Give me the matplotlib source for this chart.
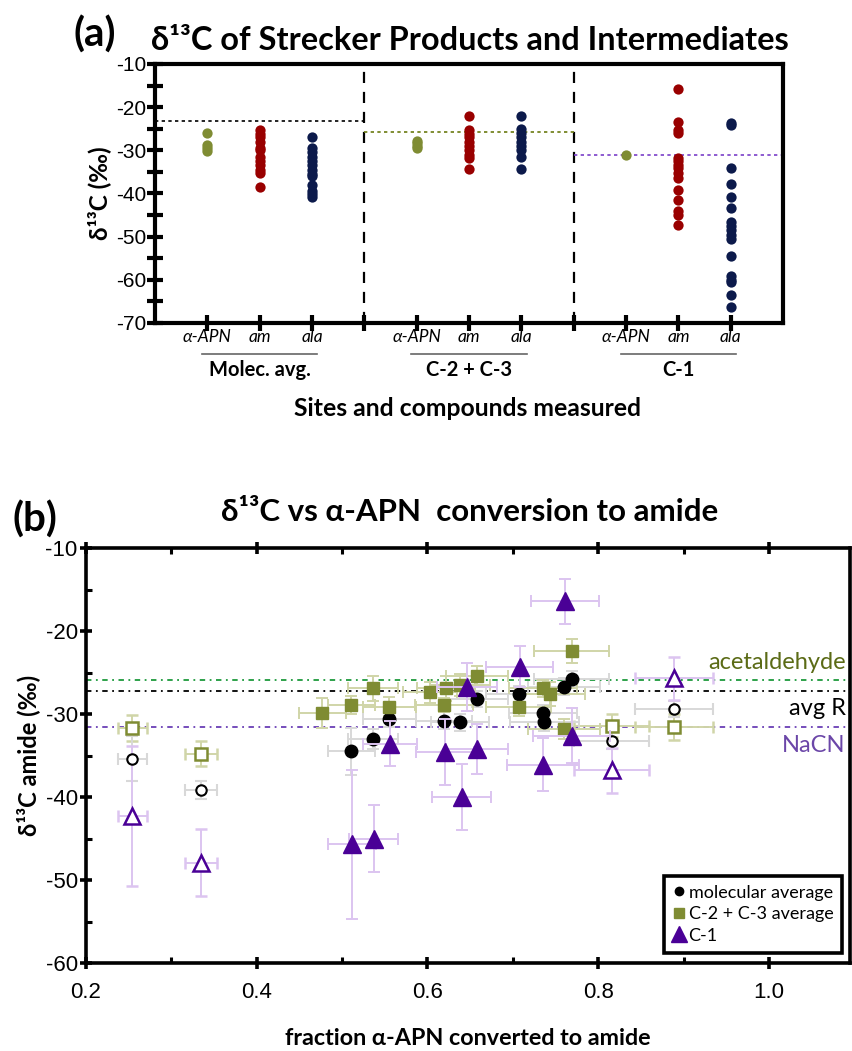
import matplotlib
matplotlib.use("Agg")
import matplotlib.pyplot as plt
from matplotlib.lines import Line2D
from matplotlib.ticker import MultipleLocator, FixedLocator

plt.rcParams['font.family'] = ['Lato', 'DejaVu Sans']

# ---------------- Panel (a) data ----------------
groups = ["Molec. avg.", "C-2 + C-3", "C-1"]
compounds = ["α-APN", "am", "ala"]
a_apn_mol = [-25.9, -28.8, -29.4, -30.2]
a_am_mol = [-25.4, -26.2, -27.0, -28.0, -29.5, -30.0, -31.5, -32.5, -33.5, -34.5, -35.3, -38.5]
a_ala_mol = [-26.9, -29.5, -30.5, -31.5, -32.5, -33.5, -34.5, -35.5, -36.0, -38.0, -39.5, -40.2, -40.8]
a_apn_c23 = [-27.9, -28.4, -28.9, -29.4]
a_am_c23 = [-22.1, -25.3, -26.2, -27.0, -28.0, -29.0, -30.0, -31.0, -31.8, -34.3]
a_ala_c23 = [-22.1, -25.0, -26.0, -27.0, -28.0, -29.0, -30.0, -31.5, -34.3]
a_apn_c1 = [-31.1]
a_am_c1 = [-15.9, -23.4, -25.3, -26.0, -31.8, -32.5, -33.3, -34.2, -35.2, -36.3, -39.2, -41.6, -44.0, -45.0, -47.2]
a_ala_c1 = [-23.6, -24.1, -34.0, -37.9, -40.9, -43.4, -46.5, -47.5, -48.5, -49.5, -50.5, -54.4, -59.2,
            -60.0, -60.5, -63.5, -66.3]
a_ref_lines = [-23.2, -25.7, -31.1]   # molecular avg, C-2+C-3, C-1 reference

# ---------------- Panel (b) data ----------------
mol_x = [0.511, 0.536, 0.555, 0.619, 0.638, 0.658, 0.707, 0.735, 0.737, 0.760, 0.769]
mol_y = [-34.5, -33.0, -30.6, -30.8, -31.0, -28.2, -27.6, -29.9, -31.0, -26.7, -25.8]
mol_xerr = [0.028, 0.029, 0.031, 0.033, 0.034, 0.036, 0.038, 0.040, 0.040, 0.042, 0.044]
mol_yerr = [2.8, 1.2, 1.0, 1.0, 1.0, 1.0, 1.0, 1.0, 1.0, 1.0, 1.0]

sq_x = [0.477, 0.511, 0.536, 0.555, 0.603, 0.622, 0.619, 0.638, 0.658, 0.707, 0.735, 0.743, 0.769, 0.760]
sq_y = [-29.9, -28.9, -26.9, -29.1, -27.4, -26.9, -28.9, -26.5, -25.4, -29.1, -26.9, -27.6, -22.4, -31.8]
sq_xerr = [0.027, 0.028, 0.029, 0.031, 0.032, 0.034, 0.034, 0.035, 0.036, 0.038, 0.040, 0.041, 0.044, 0.042]
sq_yerr = [1.8, 1.1, 1.5, 1.2, 1.3, 1.5, 0.8, 1.3, 1.2, 1.2, 1.0, 1.4, 1.45, 1.25]

tri_x = [0.512, 0.537, 0.556, 0.621, 0.640, 0.646, 0.658, 0.708, 0.735, 0.761, 0.769]
tri_y = [-45.7, -45.0, -33.6, -34.6, -40.0, -26.7, -34.2, -24.3, -36.1, -16.4, -32.6]
tri_xerr = [0.028, 0.029, 0.032, 0.034, 0.035, 0.035, 0.036, 0.039, 0.042, 0.040, 0.045]
tri_yerr = [9.0, 4.0, 2.7, 4.0, 4.0, 2.9, 3.0, 2.5, 3.2, 2.7, 3.3]

open_x = [0.254, 0.335, 0.816, 0.889]
open_xerr = [0.017, 0.019, 0.044, 0.046]
open_sq_y = [-31.7, -34.8, -31.4, -31.6]
open_sq_yerr = [1.6, 1.5, 1.4, 1.55]
open_ci_y = [-35.4, -39.2, -33.2, -29.4]
open_ci_yerr = [2.7, 1.1, 1.0, 1.0]
open_tr_y = [-42.3, -47.9, -36.8, -25.7]
open_tr_yerr = [8.4, 4.0, 2.7, 2.6]

ref_names = ["acetaldehyde", "avg R", "NaCN"]
ref_values = [-25.9, -27.2, -31.6]

# colours
OLIVE = "#7f8c33"
RED = "#990000"
NAVY = "#0c1a4b"
PURPLE = "#4a0096"
L_OLIVE = "#d0d5a8"
L_GREY = "#d8d8d8"
L_PURPLE = "#dcc4f0"

NUMFONT = ['Liberation Sans', 'DejaVu Sans']

fig = plt.figure(figsize=(8.53, 10.51), dpi=100)

# ================= Panel (a) =================
axa = fig.add_axes([155/853, 1-323/1051, 628/853, 259/1051])
group_data = [[a_apn_mol, a_am_mol, a_ala_mol],
              [a_apn_c23, a_am_c23, a_ala_c23],
              [a_apn_c1, a_am_c1, a_ala_c1]]
cols = [OLIVE, RED, NAVY]
for g, gdata in enumerate(group_data):
    for c, vals in enumerate(gdata):
        xpos = 1 + 4 * g + c
        axa.plot([xpos] * len(vals), vals, 'o', color=cols[c], ms=7.4, mec='none', zorder=3)
    axa.plot([4 * g, 4 * g + 4], [a_ref_lines[g]] * 2, ls=(0, (2, 2)), lw=1.2,
             color=['black', '#6b7a10', '#7a3fc8'][g], zorder=2)
for xd in [4, 8]:
    axa.axvline(xd, color='black', lw=1.6, ls=(0, (5, 4)), zorder=1)

axa.set_xlim(0, 12)
axa.set_ylim(-70, -10)
for s in axa.spines.values():
    s.set_linewidth(3)
axa.yaxis.set_major_locator(MultipleLocator(10))
axa.yaxis.set_minor_locator(MultipleLocator(5))
axa.xaxis.set_major_locator(FixedLocator(list(range(1, 12))))
axa.tick_params(axis='both', which='both', direction='inout', length=11, width=3)
axa.set_xticklabels([])
axa.set_yticks([-10, -20, -30, -40, -50, -60, -70])
axa.set_yticklabels([str(v) for v in [-10, -20, -30, -40, -50, -60, -70]],
                    family=NUMFONT, fontsize=15)
axa.tick_params(axis='y', pad=1)
axa.set_ylabel("δ¹³C (‰)", fontsize=17.5, fontweight='bold', labelpad=3)

# compound labels and group labels
for g in range(3):
    for c in range(3):
        axa.text(1 + 4 * g + c, -73.2, compounds[c], ha='center', va='center',
                 style='italic', fontsize=12.5, transform=axa.transData, clip_on=False)
    axa.plot([4 * g + 0.9, 4 * g + 3.1], [-77.2, -77.2], color='#666666', lw=1.2, clip_on=False)
    axa.text(4 * g + 2, -80.8, groups[g], ha='center', va='center', fontsize=14.5,
             fontweight='bold', clip_on=False)
fig.text(468/853, 1-408/1051, "Sites and compounds measured", ha='center', va='center',
         fontsize=17.8, fontweight='bold')
fig.text(470/853, 1-40/1051, "δ¹³C of Strecker Products and Intermediates", ha='center',
         va='center', fontsize=23.4, fontweight='bold')
fig.text(95/853, 1-35/1051, "(a)", ha='center', va='center', fontsize=29, fontweight='bold')

# ================= Panel (b) =================
axb = fig.add_axes([86/853, 1-963/1051, 764/853, 415/1051])
axb.set_xlim(0.2, 1.095)
axb.set_ylim(-60, -10)

line_cols = ['#1c9a3c', 'black', '#6a3fb5']
text_cols = ['#5b6b16', 'black', '#6b46a8']
for v, lc in zip(ref_values, line_cols):
    axb.axhline(v, color=lc, lw=1.3, ls=(0, (3, 2.5, 1, 2.5)), zorder=1)
axb.text(1.09, -23.8, ref_names[0], ha='right', va='center', fontsize=17, color=text_cols[0])
axb.text(1.09, -29.3, ref_names[1], ha='right', va='center', fontsize=17, color=text_cols[1])
axb.text(1.09, -33.8, ref_names[2], ha='right', va='center', fontsize=17, color=text_cols[2])

ekw = dict(capsize=4.5, elinewidth=1.4, capthick=1.4, ls='none')
# open symbols
axb.errorbar(open_x, open_sq_y, xerr=open_xerr, yerr=open_sq_yerr, fmt='s', ms=8.5,
             mfc='white', mec=OLIVE, mew=1.8, ecolor=L_OLIVE, zorder=3, **ekw)
axb.errorbar(open_x, open_ci_y, xerr=open_xerr, yerr=open_ci_yerr, fmt='o', ms=7.5,
             mfc='white', mec='black', mew=1.5, ecolor=L_GREY, zorder=3, **ekw)
axb.errorbar(open_x, open_tr_y, xerr=open_xerr, yerr=open_tr_yerr, fmt='^', ms=12,
             mfc='white', mec=PURPLE, mew=1.8, ecolor=L_PURPLE, zorder=3, **ekw)
# filled symbols
axb.errorbar(mol_x, mol_y, xerr=mol_xerr, yerr=mol_yerr, fmt='o', ms=9,
             mfc='black', mec='black', ecolor=L_GREY, zorder=4, **ekw)
axb.errorbar(sq_x, sq_y, xerr=sq_xerr, yerr=sq_yerr, fmt='s', ms=9,
             mfc=OLIVE, mec=OLIVE, ecolor=L_OLIVE, zorder=4, **ekw)
axb.errorbar(tri_x, tri_y, xerr=tri_xerr, yerr=tri_yerr, fmt='^', ms=13,
             mfc=PURPLE, mec=PURPLE, ecolor=L_PURPLE, zorder=5, **ekw)

for s in axb.spines.values():
    s.set_linewidth(2.6)
axb.xaxis.set_major_locator(FixedLocator([0.2, 0.4, 0.6, 0.8, 1.0]))
axb.xaxis.set_minor_locator(FixedLocator([0.3, 0.5, 0.7, 0.9]))
axb.yaxis.set_major_locator(MultipleLocator(10))
axb.yaxis.set_minor_locator(MultipleLocator(5))
axb.tick_params(axis='both', which='major', direction='inout', length=8, width=2.6)
axb.tick_params(axis='both', which='minor', direction='in', length=4, width=2.2)
axb.tick_params(axis='x', which='both', top=True)
axb.tick_params(axis='x', which='major', pad=10)
axb.set_xticklabels(["0.2", "0.4", "0.6", "0.8", "1.0"], family=NUMFONT, fontsize=16)
axb.set_yticks([-10, -20, -30, -40, -50, -60])
axb.set_yticklabels(["-10", "-20", "-30", "-40", "-50", "-60"], family=NUMFONT, fontsize=16)
axb.tick_params(axis='y', pad=2)
axb.set_ylabel("δ¹³C amide (‰)", fontsize=17, fontweight='bold', labelpad=4)
axb.set_xlabel("fraction α-APN converted to amide", fontsize=16.8, fontweight='bold', labelpad=18)

handles = [Line2D([], [], ls='none', marker='o', ms=6, color='black'),
           Line2D([], [], ls='none', marker='s', ms=7, color=OLIVE),
           Line2D([], [], ls='none', marker='^', ms=11, color=PURPLE)]
leg = axb.legend(handles, ["molecular average", "C-2 + C-3 average", "C-1"],
                 loc='lower right', bbox_to_anchor=(0.99, 0.025), fontsize=13,
                 handlelength=0.6, handletextpad=0.25, borderpad=0.5, labelspacing=0.3,
                 fancybox=False, framealpha=1, borderaxespad=0)
leg.get_frame().set_edgecolor('black')
leg.get_frame().set_linewidth(2.6)

fig.text(470/853, 1-512/1051, "δ¹³C vs α-APN  conversion to amide", ha='center', va='center',
         fontsize=22.5, fontweight='bold')
fig.text(35/853, 1-520/1051, "(b)", ha='center', va='center', fontsize=29, fontweight='bold')

fig.savefig("out.png", dpi=100)
